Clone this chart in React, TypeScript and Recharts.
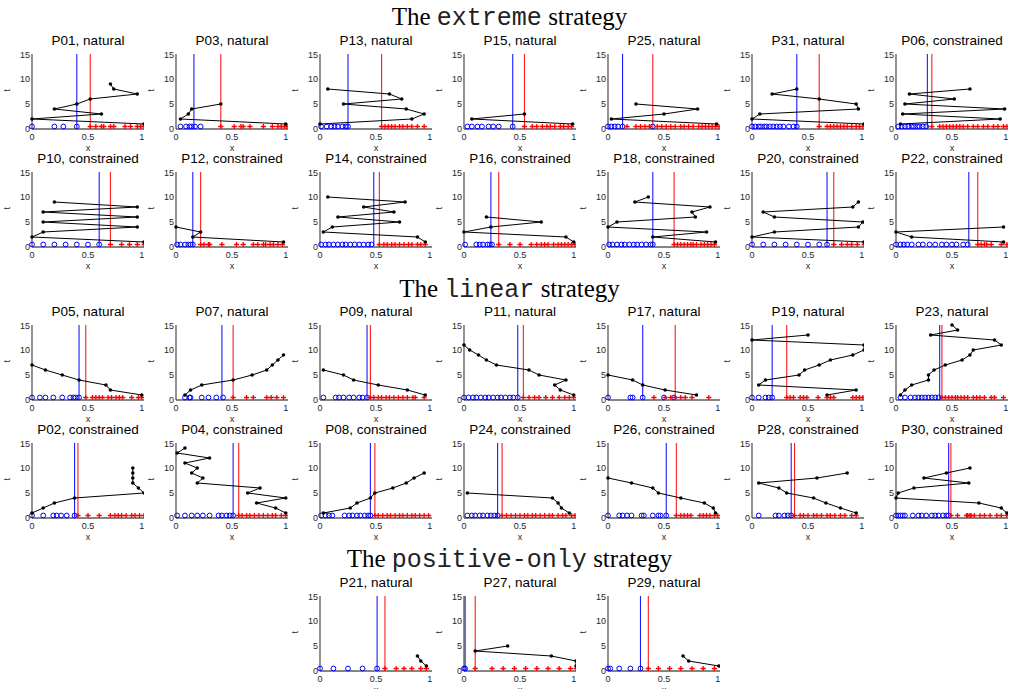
import React from "react";
import { ScatterChart, Scatter, XAxis, YAxis, ReferenceLine } from "recharts";

// each panel: path = x value tried at t = 1, 2, ...; neg / pos = labelled examples; lines = [blue, red]
const P01_path = [1.0, 0, 0.62, 0.2, 0.4, 0.52, 0.94, 0.73, 0.7];
const P01_neg = [0, 0.2, 0.28, 0.4];
const P01_pos = [0.52, 0.57, 0.62, 0.64, 0.7, 0.73, 0.83, 0.88, 0.94, 0.97, 1.0];
const P01_lines = [0.4, 0.52];

const P03_path = [0.98, 0.04, 0.11, 0.14, 0.4];
const P03_neg = [0.04, 0.09, 0.12, 0.14, 0.17, 0.22];
const P03_pos = [0.4, 0.52, 0.58, 0.6, 0.66, 0.78, 0.86, 0.91, 0.94, 0.97, 0.99];
const P03_lines = [0.16, 0.4];

const P13_path = [0, 0.82, 0.93, 0.77, 0.21, 0.73, 0.62, 0.07];
const P13_neg = [0.01, 0.06, 0.1, 0.13, 0.16, 0.2, 0.23, 0.25];
const P13_pos = [0.55, 0.58, 0.61, 0.64, 0.67, 0.71, 0.74, 0.78, 0.82, 0.87, 0.93];
const P13_lines = [0.25, 0.55];

const P15_path = [0.97, 0.07, 0.54];
const P15_neg = [0.03, 0.07, 0.12, 0.16, 0.22, 0.26, 0.31, 0.435];
const P15_pos = [0.54, 0.61, 0.65, 0.7, 0.74, 0.77, 0.81, 0.86, 0.89, 0.93, 0.96];
const P15_lines = [0.435, 0.54];

const P25_path = [0.97, 0.03, 0.5, 0.8, 0.25];
const P25_neg = [0, 0.03, 0.06, 0.09, 0.13, 0.4];
const P25_pos = [0.17, 0.25, 0.29, 0.33, 0.37, 0.44, 0.48, 0.52, 0.56, 0.6, 0.65, 0.68, 0.72, 0.76, 0.81, 0.84, 0.87, 0.9, 0.93, 0.96, 0.99];
const P25_lines = [0.13, 0.4];

const P31_path = [1.0, 0, 0.07, 0.95, 0.93, 0.6, 0.18, 0.4];
const P31_neg = [0, 0.03, 0.06, 0.08, 0.11, 0.13, 0.16, 0.19, 0.22, 0.25, 0.28, 0.33, 0.37, 0.4];
const P31_pos = [0.6, 0.67, 0.7, 0.73, 0.76, 0.79, 0.82, 0.85, 0.89, 0.93, 0.96, 0.99];
const P31_lines = [0.4, 0.6];

const P06_path = [0.04, 0.93, 0.06, 0.97, 0.08, 0.52, 0.12, 0.66];
const P06_neg = [0.02, 0.05, 0.08, 0.11, 0.14, 0.16, 0.19, 0.21, 0.24, 0.27];
const P06_pos = [0.32, 0.39, 0.42, 0.45, 0.48, 0.51, 0.54, 0.57, 0.6, 0.64, 0.69, 0.73, 0.78, 0.82, 0.87, 0.91, 0.96, 0.99];
const P06_lines = [0.28, 0.32];

const P10_path = [1.0, 0, 0.1, 0.94, 0.1, 0.94, 0.1, 0.94, 0.2];
const P10_neg = [0, 0.1, 0.2, 0.3, 0.4, 0.5, 0.6];
const P10_pos = [0.7, 0.8, 0.87, 0.94, 1.0];
const P10_lines = [0.6, 0.7];

const P12_path = [0.96, 0.15, 0.22, 0];
const P12_neg = [0.01, 0.04, 0.08, 0.11, 0.13, 0.15];
const P12_pos = [0.22, 0.25, 0.29, 0.3, 0.41, 0.54, 0.6, 0.69, 0.73, 0.78, 0.8, 0.84, 0.87, 0.91, 0.95];
const P12_lines = [0.15, 0.22];

const P14_path = [0.94, 0.87, 0.03, 0.11, 0.71, 0.16, 0.66, 0.39, 0.76, 0.07];
const P14_neg = [0.01, 0.05, 0.08, 0.12, 0.16, 0.2, 0.23, 0.27, 0.31, 0.35, 0.39, 0.43, 0.46];
const P14_pos = [0.53, 0.57, 0.6, 0.64, 0.67, 0.71, 0.75, 0.79, 0.82, 0.87, 0.9, 0.94];
const P14_lines = [0.48, 0.53];

const P16_path = [0.98, 0.91, 0, 0.24, 0.69, 0.2];
const P16_neg = [0.01, 0.11, 0.14, 0.17, 0.21, 0.23, 0.25];
const P16_pos = [0.31, 0.41, 0.5, 0.6, 0.65, 0.69, 0.72, 0.75, 0.8, 0.84, 0.87, 0.9, 0.93, 0.96, 0.99];
const P16_lines = [0.24, 0.31];

const P18_path = [0.96, 0.4, 0.88, 0, 0.08, 0.78, 0.75, 0.91, 0.24, 0.36];
const P18_neg = [0.01, 0.04, 0.08, 0.12, 0.15, 0.19, 0.23, 0.26, 0.3, 0.34, 0.38, 0.4];
const P18_pos = [0.59, 0.62, 0.65, 0.68, 0.71, 0.74, 0.76, 0.79, 0.83, 0.86, 0.89, 0.92, 0.95];
const P18_lines = [0.4, 0.59];

const P20_path = [1.0, 0, 0.2, 0.95, 0.99, 0.2, 0.1, 0.9, 0.95];
const P20_neg = [0, 0.1, 0.2, 0.3, 0.4, 0.5, 0.6, 0.67];
const P20_pos = [0.73, 0.8, 0.85, 0.89, 0.94, 1.0];
const P20_lines = [0.67, 0.73];

const P22_path = [0.96, 0.14, 0, 0.96];
const P22_neg = [0, 0.04, 0.07, 0.1, 0.14, 0.2, 0.24, 0.3, 0.35, 0.41, 0.45, 0.5, 0.54, 0.6, 0.64];
const P22_pos = [0.73, 0.76, 0.79, 0.81, 0.85, 0.94, 0.99];
const P22_lines = [0.65, 0.73];

const P05_path = [0.98, 0.7, 0.66, 0.42, 0.27, 0.12, 0];
const P05_neg = [0, 0.07, 0.12, 0.19, 0.27, 0.34, 0.37, 0.39, 0.42];
const P05_pos = [0.48, 0.54, 0.57, 0.6, 0.63, 0.68, 0.71, 0.75, 0.78, 0.81, 0.89, 0.95, 0.98];
const P05_lines = [0.42, 0.48];

const P07_path = [0.08, 0.13, 0.23, 0.51, 0.68, 0.81, 0.86, 0.91, 0.96];
const P07_neg = [0.08, 0.12, 0.13, 0.23, 0.29, 0.36, 0.42];
const P07_pos = [0.51, 0.63, 0.69, 0.81, 0.85, 0.9, 0.96];
const P07_lines = [0.41, 0.51];

const P09_path = [0.94, 0.78, 0.52, 0.3, 0.21, 0.03];
const P09_neg = [0.03, 0.14, 0.17, 0.21, 0.26, 0.3, 0.35, 0.38, 0.42];
const P09_pos = [0.45, 0.48, 0.52, 0.55, 0.59, 0.62, 0.66, 0.7, 0.74, 0.78, 0.83, 0.85, 0.93];
const P09_lines = [0.42, 0.45];

const P11_path = [0.98, 0.86, 0.81, 0.91, 0.67, 0.58, 0.29, 0.2, 0.13, 0.05, 0];
const P11_neg = [0, 0.04, 0.08, 0.11, 0.15, 0.19, 0.22, 0.26, 0.3, 0.33, 0.37, 0.41, 0.44, 0.48];
const P11_pos = [0.53, 0.58, 0.63, 0.67, 0.73, 0.79, 0.85, 0.9, 0.94, 0.98];
const P11_lines = [0.48, 0.53];

const P17_path = [0.79, 0.51, 0.31, 0.22, 0];
const P17_neg = [0, 0.2, 0.22, 0.31, 0.5, 0.59];
const P17_pos = [0.41, 0.51, 0.56, 0.6, 0.65, 0.69, 0.75, 0.9];
const P17_lines = [0.31, 0.6];

const P19_path = [0.67, 0.93, 0.06, 0.12, 0.42, 0.47, 0.6, 0.7, 0.9, 1.0, 1.0, 0, 0.5];
const P19_neg = [0, 0.06, 0.12, 0.15, 0.18];
const P19_pos = [0.31, 0.34, 0.37, 0.43, 0.46, 0.49, 0.59, 0.67, 0.7, 0.73, 0.9, 0.93, 0.96, 0.99];
const P19_lines = [0.18, 0.31];

const P23_path = [0.04, 0.08, 0.14, 0.29, 0.29, 0.34, 0.44, 0.59, 0.66, 0.69, 0.94, 0.88, 0.31, 0.55, 0.5];
const P23_neg = [0.04, 0.08, 0.13, 0.17, 0.2, 0.23, 0.26, 0.29, 0.32, 0.35, 0.38];
const P23_pos = [0.41, 0.44, 0.47, 0.5, 0.53, 0.55, 0.58, 0.61, 0.64, 0.69, 0.72, 0.75, 0.79, 0.85, 0.88, 0.96];
const P23_lines = [0.39, 0.41];

const P02_path = [0, 0.1, 0.2, 0.38, 1.0, 0.95, 0.9, 0.9, 0.9, 0.9];
const P02_neg = [0, 0.1, 0.19, 0.22, 0.26, 0.31, 0.38];
const P02_pos = [0.41, 0.5, 0.6, 0.7, 0.74, 0.77, 0.8, 0.84, 0.89, 0.92, 0.96, 1.0];
const P02_lines = [0.38, 0.41];

const P04_path = [0.98, 0.89, 0.72, 0.98, 0.64, 0.75, 0.19, 0.24, 0.14, 0.19, 0.08, 0.3, 0.01, 0.08];
const P04_neg = [0.01, 0.08, 0.14, 0.19, 0.24, 0.3, 0.38, 0.41, 0.45, 0.48, 0.51];
const P04_pos = [0.56, 0.59, 0.63, 0.66, 0.7, 0.74, 0.78, 0.82, 0.86, 0.89, 0.94, 0.98];
const P04_lines = [0.51, 0.56];

const P08_path = [0.03, 0.27, 0.33, 0.45, 0.49, 0.65, 0.77, 0.84, 0.93];
const P08_neg = [0.01, 0.05, 0.08, 0.11, 0.22, 0.26, 0.29, 0.33, 0.36, 0.4, 0.43, 0.45];
const P08_pos = [0.49, 0.52, 0.56, 0.6, 0.63, 0.67, 0.71, 0.74, 0.78, 0.82, 0.85, 0.89, 0.93, 0.97];
const P08_lines = [0.45, 0.49];

const P24_path = [0.94, 0.87, 0.84, 0.79, 0.03];
const P24_neg = [0.03, 0.07, 0.1, 0.14, 0.17, 0.21, 0.24, 0.27, 0.3];
const P24_pos = [0.34, 0.38, 0.42, 0.46, 0.5, 0.54, 0.57, 0.61, 0.64, 0.68, 0.72, 0.76, 0.79, 0.84, 0.88, 0.91, 0.96, 0.99];
const P24_lines = [0.3, 0.34];

const P26_path = [0.96, 0.94, 0.86, 0.65, 0.45, 0.4, 0.21, 0];
const P26_neg = [0, 0.1, 0.13, 0.17, 0.21, 0.3, 0.32, 0.4, 0.45, 0.47, 0.52];
const P26_pos = [0.61, 0.65, 0.68, 0.71, 0.74, 0.82, 0.85, 0.88, 0.91, 0.95, 0.98];
const P26_lines = [0.52, 0.61];

const P28_path = [0.93, 0.79, 0.66, 0.55, 0.31, 0.24, 0.06, 0.58, 0.85];
const P28_neg = [0.06, 0.21, 0.24, 0.29, 0.32, 0.35];
const P28_pos = [0.38, 0.43, 0.46, 0.5, 0.55, 0.58, 0.62, 0.67, 0.7, 0.74, 0.79, 0.83, 0.89, 0.93];
const P28_lines = [0.35, 0.38];

const P30_path = [0.99, 0.94, 0.74, 0, 0.02, 0.16, 0.65, 0.25, 0.45, 0.66];
const P30_neg = [0, 0.02, 0.04, 0.06, 0.08, 0.15, 0.2, 0.23, 0.27, 0.32, 0.35, 0.38, 0.42, 0.45, 0.47];
const P30_pos = [0.49, 0.55, 0.63, 0.64, 0.66, 0.67, 0.7, 0.75, 0.79, 0.84, 0.9, 0.94, 0.99];
const P30_lines = [0.47, 0.49];

const P21_path = [0.95, 0.9, 0.87];
const P21_neg = [0, 0.12, 0.25, 0.38, 0.51];
const P21_pos = [0.58, 0.68, 0.75, 0.82, 0.9, 0.95];
const P21_lines = [0.51, 0.58];

const P27_path = [1.0, 1.0, 0.78, 0.1, 0.39];
const P27_neg = [0, 0.01];
const P27_pos = [0.1, 0.25, 0.35, 0.45, 0.55, 0.65, 0.75, 0.85, 0.95, 1.0];
const P27_lines = [0.01, 0.1];

const P29_path = [0.99, 0.72, 0.67];
const P29_neg = [0, 0.02, 0.1, 0.2, 0.29];
const P29_pos = [0.36, 0.45, 0.55, 0.65, 0.75, 0.85, 0.95];
const P29_lines = [0.29, 0.36];

const X_TICKS = [0, 0.5, 1];
const Y_TICKS = [0, 5, 10, 15];

type PanelData = {
  name: string;
  path: number[];
  neg: number[];
  pos: number[];
  lines: number[];
};

const mk = (name: string, path: number[], neg: number[], pos: number[], lines: number[]): PanelData => ({
  name,
  path,
  neg,
  pos,
  lines,
});

const ROWS: { panels: PanelData[]; top: number; col0: number }[] = [
  {
    top: 54,
    col0: 0,
    panels: [
      mk("P01, natural", P01_path, P01_neg, P01_pos, P01_lines),
      mk("P03, natural", P03_path, P03_neg, P03_pos, P03_lines),
      mk("P13, natural", P13_path, P13_neg, P13_pos, P13_lines),
      mk("P15, natural", P15_path, P15_neg, P15_pos, P15_lines),
      mk("P25, natural", P25_path, P25_neg, P25_pos, P25_lines),
      mk("P31, natural", P31_path, P31_neg, P31_pos, P31_lines),
      mk("P06, constrained", P06_path, P06_neg, P06_pos, P06_lines),
    ],
  },
  {
    top: 172,
    col0: 0,
    panels: [
      mk("P10, constrained", P10_path, P10_neg, P10_pos, P10_lines),
      mk("P12, constrained", P12_path, P12_neg, P12_pos, P12_lines),
      mk("P14, constrained", P14_path, P14_neg, P14_pos, P14_lines),
      mk("P16, constrained", P16_path, P16_neg, P16_pos, P16_lines),
      mk("P18, constrained", P18_path, P18_neg, P18_pos, P18_lines),
      mk("P20, constrained", P20_path, P20_neg, P20_pos, P20_lines),
      mk("P22, constrained", P22_path, P22_neg, P22_pos, P22_lines),
    ],
  },
  {
    top: 325,
    col0: 0,
    panels: [
      mk("P05, natural", P05_path, P05_neg, P05_pos, P05_lines),
      mk("P07, natural", P07_path, P07_neg, P07_pos, P07_lines),
      mk("P09, natural", P09_path, P09_neg, P09_pos, P09_lines),
      mk("P11, natural", P11_path, P11_neg, P11_pos, P11_lines),
      mk("P17, natural", P17_path, P17_neg, P17_pos, P17_lines),
      mk("P19, natural", P19_path, P19_neg, P19_pos, P19_lines),
      mk("P23, natural", P23_path, P23_neg, P23_pos, P23_lines),
    ],
  },
  {
    top: 443,
    col0: 0,
    panels: [
      mk("P02, constrained", P02_path, P02_neg, P02_pos, P02_lines),
      mk("P04, constrained", P04_path, P04_neg, P04_pos, P04_lines),
      mk("P08, constrained", P08_path, P08_neg, P08_pos, P08_lines),
      mk("P24, constrained", P24_path, P24_neg, P24_pos, P24_lines),
      mk("P26, constrained", P26_path, P26_neg, P26_pos, P26_lines),
      mk("P28, constrained", P28_path, P28_neg, P28_pos, P28_lines),
      mk("P30, constrained", P30_path, P30_neg, P30_pos, P30_lines),
    ],
  },
  {
    top: 596,
    col0: 2,
    panels: [
      mk("P21, natural", P21_path, P21_neg, P21_pos, P21_lines),
      mk("P27, natural", P27_path, P27_neg, P27_pos, P27_lines),
      mk("P29, natural", P29_path, P29_neg, P29_pos, P29_lines),
    ],
  },
];

const SECTIONS = [
  { word: "extreme", baseline: 25 },
  { word: "linear", baseline: 297 },
  { word: "positive-only", baseline: 567 },
];

const SANS = '"Liberation Sans", Arial, Helvetica, sans-serif';
const AXIS_W = 30;
const PLOT_W = 112;
const PLOT_H = 75;
const TOP_M = 4;
const XAXIS_H = 23;

const dot = (p: any) => <circle cx={p.cx} cy={p.cy} r={1.8} fill="#000" />;
const ring = (p: any) => (
  <circle cx={p.cx} cy={p.cy} r={2.4} fill="none" stroke="#0000ff" strokeWidth={1} />
);
const plus = (p: any) => (
  <path
    d={`M${p.cx - 2.6},${p.cy}h5.2M${p.cx},${p.cy - 2.6}v5.2`}
    stroke="#ff0000"
    strokeWidth={1.3}
    fill="none"
  />
);

function Panel({ d, left, plotTop }: { d: PanelData; left: number; plotTop: number }) {
  const path = d.path.map((x, i) => ({ x, y: i + 1 }));
  const neg = d.neg.map((x) => ({ x, y: 0.5 }));
  const pos = d.pos.map((x) => ({ x, y: 0.5 }));
  const top = plotTop - TOP_M;
  return (
    <>
      <div
        style={{
          position: "absolute",
          left: left + AXIS_W - 40,
          width: PLOT_W + 80,
          top: top - 15.7,
          lineHeight: "14px",
          fontSize: 13.5,
          fontFamily: SANS,
          textAlign: "center",
          whiteSpace: "nowrap",
          color: "#000",
        }}
      >
        {d.name}
      </div>
      <div style={{ position: "absolute", left, top }}>
        <ScatterChart
          width={AXIS_W + PLOT_W}
          height={TOP_M + PLOT_H + XAXIS_H}
          margin={{ top: TOP_M, right: 0, bottom: 0, left: 0 }}
        >
          <XAxis
            type="number"
            dataKey="x"
            domain={[0, 1]}
            ticks={X_TICKS}
            height={XAXIS_H}
            tickSize={0}
            tickMargin={5}
            tickLine={false}
            axisLine={{ stroke: "#858585", strokeWidth: 2 }}
            tick={{ fontSize: 9, fill: "#262626", fontFamily: SANS }}
            label={{ value: "x", position: "insideBottom", offset: 1, fontSize: 9, fill: "#262626", fontFamily: SANS }}
          />
          <YAxis
            type="number"
            dataKey="y"
            domain={[0, 15]}
            ticks={Y_TICKS}
            width={AXIS_W}
            tickSize={0}
            tickMargin={2}
            tickLine={false}
            axisLine={{ stroke: "#4a4a4a", strokeWidth: 1.2 }}
            tick={{ fontSize: 9, fill: "#262626", fontFamily: SANS }}
            label={{ value: "t", angle: -90, position: "insideLeft", offset: 5, fontSize: 9, fill: "#262626", fontFamily: SANS }}
          />
          <ReferenceLine x={d.lines[0]} stroke="#1a1aff" strokeWidth={1.1} />
          <ReferenceLine x={d.lines[1]} stroke="#ff1a1a" strokeWidth={1.1} />
          <Scatter data={neg} shape={ring} isAnimationActive={false} />
          <Scatter data={pos} shape={plus} isAnimationActive={false} />
          <Scatter
            data={path}
            shape={dot}
            line={{ stroke: "#000", strokeWidth: 1 }}
            lineType="joint"
            isAnimationActive={false}
          />
        </ScatterChart>
      </div>
    </>
  );
}

export default function App() {
  return (
    <div
      style={{
        position: "absolute",
        left: 0,
        top: 0,
        width: 1009,
        height: 689,
        overflow: "hidden",
        background: "#fff",
      }}
    >
      {SECTIONS.map((s) => (
        <div
          key={s.word}
          style={{
            position: "absolute",
            left: 0,
            width: 1019,
            top: s.baseline - 21,
            lineHeight: "25px",
            fontSize: 25,
            fontFamily: '"Liberation Serif", "Times New Roman", serif',
            textAlign: "center",
            whiteSpace: "nowrap",
            color: "#000",
          }}
        >
          The{" "}
          <span style={{ fontFamily: '"Liberation Mono", "Courier New", monospace', color: "#222" }}>
            {s.word}
          </span>{" "}
          strategy
        </div>
      ))}
      {ROWS.map((row, ri) =>
        row.panels.map((p, ci) => (
          <Panel key={`${ri}-${ci}`} d={p} left={2 + 144 * (row.col0 + ci)} plotTop={row.top} />
        ))
      )}
    </div>
  );
}
